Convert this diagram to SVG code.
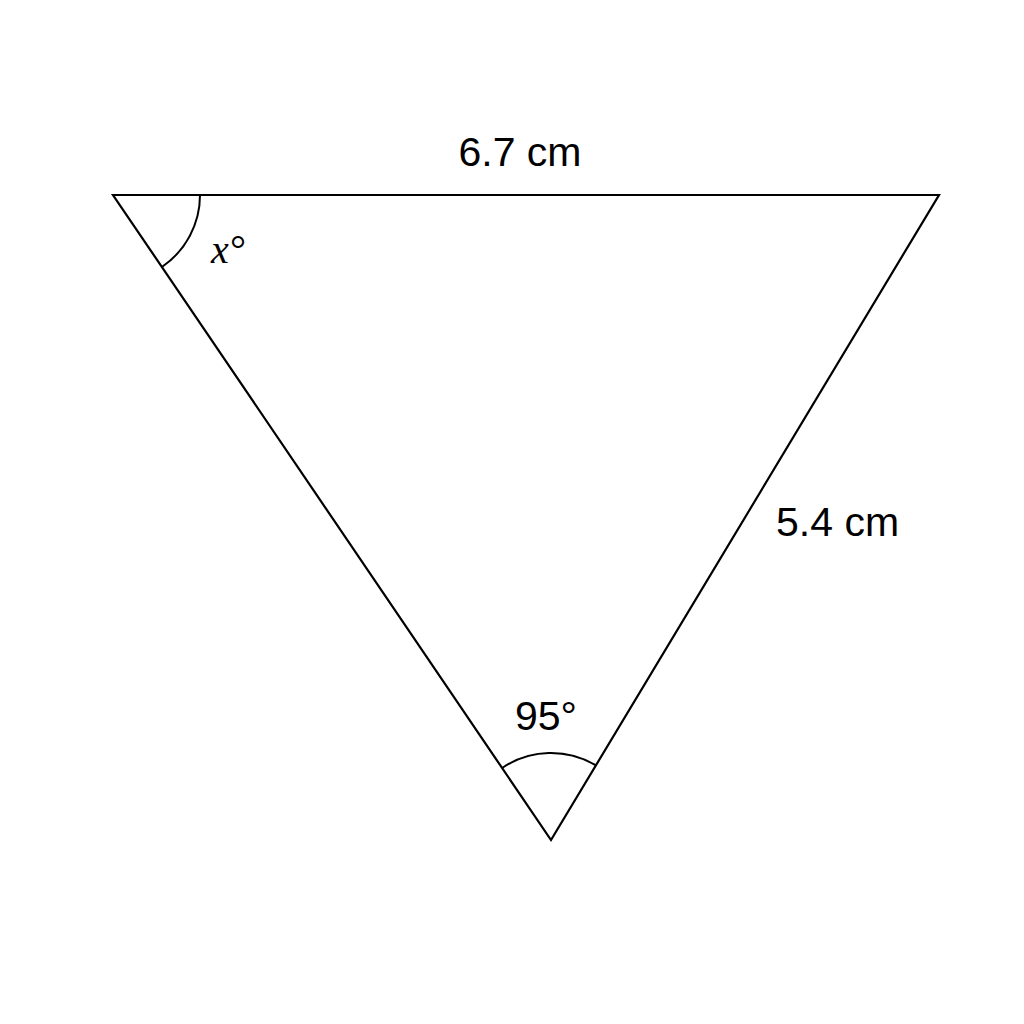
<svg xmlns="http://www.w3.org/2000/svg" width="1024" height="1024" viewBox="0 0 1024 1024">
<style>
.edge{fill:none;stroke:#000;stroke-width:2.2;stroke-linejoin:miter}
.arc{fill:none;stroke:#000;stroke-width:2}
.lbl{font-family:"Liberation Sans",Arial,sans-serif;font-size:41px;fill:#000}
.var{font-family:"Liberation Serif","DejaVu Serif",serif;font-style:italic;font-size:40px;fill:#000}
</style>
<rect width="1024" height="1024" fill="#fff"/>
<g id="triangle">
<polygon class="edge" points="113,195 939,195 551,840"/>
</g>
<g id="angles">
<path class="arc" d="M200,195 A87,87 0 0 1 161.9,267"/>
<path class="arc" d="M502.1,768 A87,87 0 0 1 595.9,765.4"/>
</g>
<g id="labels">
<text class="lbl" x="520" y="166" text-anchor="middle">6.7 cm</text>
<text class="lbl" x="776" y="536">5.4 cm</text>
<text class="lbl" x="546" y="730" text-anchor="middle">95°</text>
<text class="var" x="211" y="263">x°</text>
</g>
</svg>
